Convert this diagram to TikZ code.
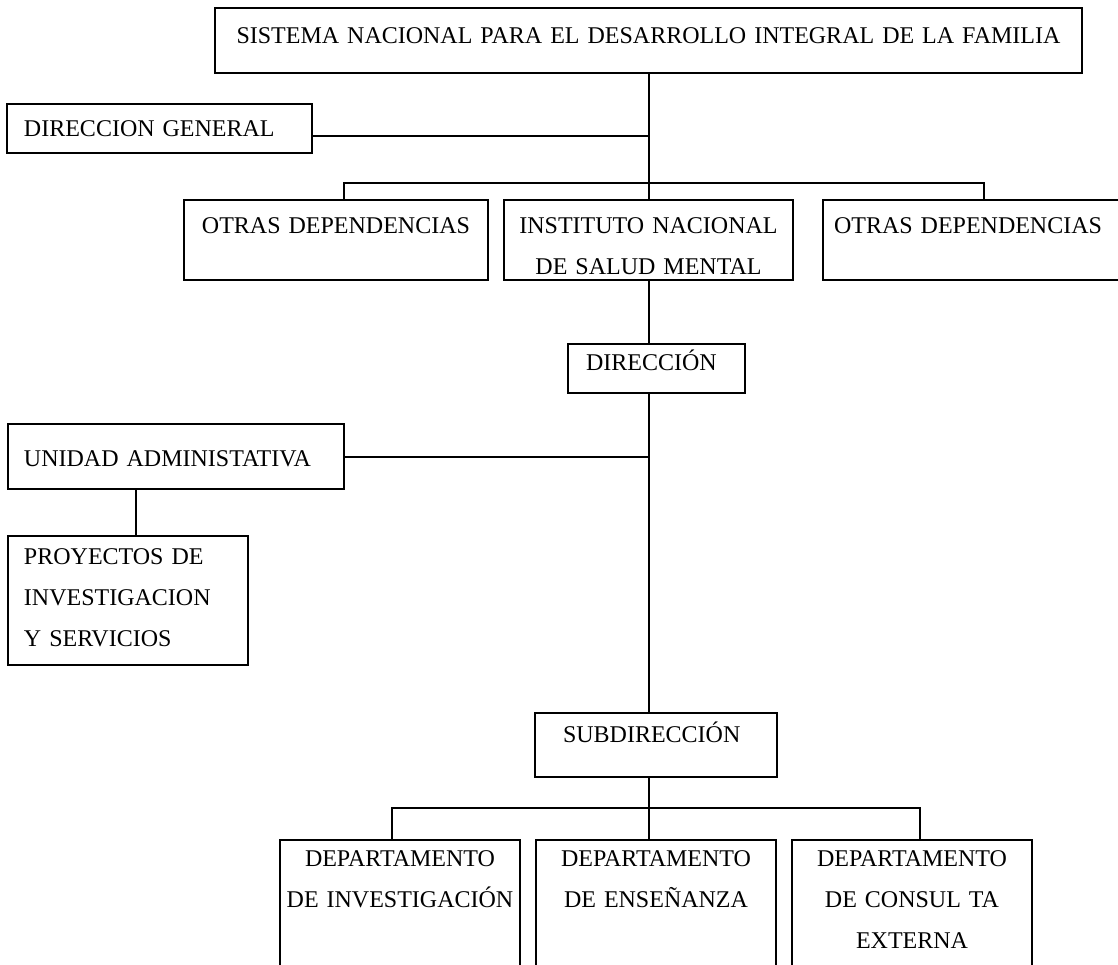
\documentclass[tikz,border=0pt]{standalone}
\usepackage{fontspec}
\setmainfont{Liberation Serif}
\newcommand{\newUnit}[4]{\node[unit,#3](#1) at #4 {#2};}
\tikzset{unit/.style={draw,rectangle,anchor=north west,inner ysep=0pt,
    font=\fontsize{12pt}{20.5pt}\selectfont}}

\begin{document}
\begin{tikzpicture}[
    % one pixel of the page is half a point, y runs down
    x=0.5pt, y=-0.5pt,
    % boxes and connectors have the same stroke
    line width=1pt
    ]
    \useasboundingbox (0,0) rectangle (1118,964);
    \clip (0,0) rectangle (1118,964);

    \newUnit{sistema}{SISTEMA NACIONAL PARA EL DESARROLLO INTEGRAL DE LA FAMILIA}{text width=433.5pt,text height=17.5pt,text depth=15pt,inner xsep=0pt,align=center}{(214,7)}
    \newUnit{dirGeneral}{DIRECCION GENERAL}{text width=135.5pt,text height=16pt,text depth=8.5pt,inner xsep=8.5pt,align=left}{(6,103)}

    \newUnit{otrasIzq}{OTRAS DEPENDENCIAS}{text width=152pt,text height=16.5pt,text depth=23.5pt,inner xsep=0pt,align=center}{(183,199)}
    \newUnit{instituto}{INSTITUTO NACIONAL\\DE SALUD MENTAL}{text width=144.5pt,text height=16.5pt,text depth=23.5pt,inner xsep=0pt,align=center}{(503,199)}
    \newUnit{otrasDer}{OTRAS DEPENDENCIAS}{text width=150pt,text height=16.5pt,text depth=23.5pt,inner xsep=5.5pt,align=left}{(822,199)}

    \newUnit{direccion}{DIRECCIÓN}{text width=70.5pt,text height=13pt,text depth=11.5pt,inner xsep=9pt,align=left}{(567,343)}
    \newUnit{unidad}{UNIDAD ADMINISTATIVA}{text width=152pt,text height=21pt,text depth=11.5pt,inner xsep=8pt,align=left}{(7,423)}
    \newUnit{proyectos}{PROYECTOS DE\\INVESTIGACION\\Y SERVICIOS}{text width=104pt,text height=14pt,text depth=50.5pt,inner xsep=8pt,align=left}{(7,535)}
    \newUnit{subdireccion}{SUBDIRECCIÓN}{text width=93pt,text height=14.5pt,text depth=17.5pt,inner xsep=14pt,align=left}{(534,712)}

    \newUnit{deptInv}{DEPARTAMENTO\\DE INVESTIGACIÓN}{text width=120pt,text height=13pt,text depth=67.5pt,inner xsep=0pt,align=center}{(279,839)}
    \newUnit{deptEns}{DEPARTAMENTO\\DE ENSEÑANZA}{text width=120pt,text height=13pt,text depth=67.5pt,inner xsep=0pt,align=center}{(535,839)}
    \newUnit{deptCon}{DEPARTAMENTO\\DE CONSUL TA\\EXTERNA}{text width=120pt,text height=13pt,text depth=67.5pt,inner xsep=0pt,align=center}{(791,839)}

    % trunk and branches
    \draw (sistema) -- (instituto);
    \coordinate (dg) at ([yshift=-3.75pt]dirGeneral.east);
    \draw (dg) -- (dg -| sistema.south);
    \draw ([xshift=4pt]otrasIzq.north) -- ++(0,8pt) -| (otrasDer.north);
    \draw (instituto.south) -- (instituto.south |- direccion.north);
    \draw (instituto.south |- direccion.south) -- (instituto.south |- subdireccion.north);
    \draw (unidad.east) -- (unidad.east -| instituto.south);
    \draw ([xshift=4pt]proyectos.north) -- ([xshift=4pt]proyectos.north |- unidad.south);
    \draw (instituto.south |- subdireccion.south) -- (instituto.south |- deptEns.north);
    \draw ([xshift=-4pt]deptInv.north) -- ++(0,15.5pt) -| ([xshift=4pt]deptCon.north);
\end{tikzpicture}
\end{document}
